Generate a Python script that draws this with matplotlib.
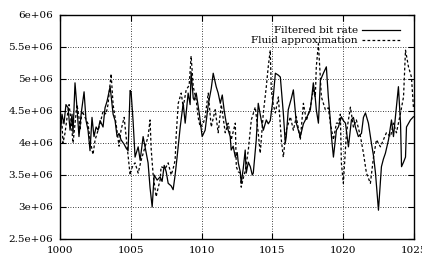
import matplotlib
matplotlib.use("Agg")
import matplotlib.pyplot as plt
from matplotlib.lines import Line2D

# ---- data (values in 1e6 bit/s) ----
t_filtered = [1000.00, 1000.14, 1000.28, 1000.42, 1000.57, 1000.71, 1000.85, 1000.92, 1001.06, 1001.20,
              1001.34, 1001.49, 1001.70, 1001.84, 1001.98, 1002.12, 1002.26, 1002.40, 1002.55, 1002.69,
              1002.83, 1003.04, 1003.18, 1003.32, 1003.54, 1003.68, 1003.75, 1003.89, 1004.03, 1004.17,
              1004.31, 1004.53, 1004.67, 1004.81, 1004.95, 1005.02, 1005.16, 1005.30, 1005.52, 1005.66,
              1005.87, 1006.08, 1006.22, 1006.36, 1006.51, 1006.65, 1006.86, 1007.07, 1007.21, 1007.36,
              1007.50, 1007.64, 1007.85, 1007.99, 1008.13, 1008.27, 1008.49, 1008.70, 1008.84, 1009.05,
              1009.19, 1009.26, 1009.41, 1009.48, 1009.62, 1009.83, 1010.04, 1010.25, 1010.47, 1010.68,
              1010.82, 1011.03, 1011.17, 1011.32, 1011.46, 1011.60, 1011.74, 1011.88, 1012.02, 1012.09,
              1012.23, 1012.38, 1012.52, 1012.59, 1012.73, 1012.80, 1012.94, 1013.08, 1013.15, 1013.30,
              1013.44, 1013.58, 1013.65, 1013.86, 1014.00, 1014.21, 1014.36, 1014.57, 1014.71, 1014.85,
              1015.06, 1015.21, 1015.42, 1015.56, 1015.77, 1015.91, 1015.98, 1016.12, 1016.34, 1016.48,
              1016.69, 1016.83, 1016.97, 1017.19, 1017.33, 1017.54, 1017.68, 1017.89, 1018.03, 1018.10,
              1018.25, 1018.39, 1018.60, 1018.81, 1018.95, 1019.09, 1019.17, 1019.31, 1019.52, 1019.66,
              1019.87, 1020.01, 1020.16, 1020.37, 1020.58, 1020.72, 1020.86, 1021.07, 1021.29, 1021.43,
              1021.57, 1021.78, 1021.99, 1022.14, 1022.28, 1022.49, 1022.70, 1022.84, 1022.98, 1023.20,
              1023.41, 1023.55, 1023.69, 1023.90, 1024.05, 1024.12, 1024.26, 1024.40, 1024.47, 1024.75,
              1024.96]
v_filtered = [4.10, 4.45, 4.30, 4.60, 4.55, 4.20, 4.45, 4.15, 4.94, 4.55,
              4.10, 4.45, 4.80, 4.35, 4.20, 3.88, 4.40, 4.10, 4.25, 4.20,
              4.35, 4.25, 4.55, 4.65, 4.88, 4.60, 4.45, 4.35, 4.10, 4.15,
              4.05, 3.98, 3.92, 3.88, 4.82, 4.80, 4.35, 3.78, 3.94, 3.73,
              4.10, 3.85, 3.69, 3.30, 3.00, 3.50, 3.42, 3.47, 3.40, 3.65,
              3.55, 3.37, 3.33, 3.27, 3.50, 3.78, 4.25, 4.62, 4.31, 4.78,
              4.60, 5.11, 4.70, 4.67, 4.78, 4.47, 4.10, 4.20, 4.60, 4.85,
              5.09, 4.88, 4.78, 4.62, 4.75, 4.50, 4.31, 4.20, 4.10, 3.89,
              3.95, 3.78, 3.85, 3.69, 3.55, 3.37, 3.60, 3.89, 3.53, 3.70,
              3.63, 3.50, 3.53, 4.05, 4.62, 4.36, 4.20, 4.36, 4.30, 4.35,
              4.72, 5.09, 5.06, 5.03, 4.47, 4.00, 4.10, 4.52, 4.70, 4.83,
              4.31, 4.20, 4.10, 4.30, 4.36, 4.45, 4.52, 4.94, 4.70, 4.52,
              4.31, 4.98, 5.09, 5.19, 4.72, 4.36, 4.10, 3.78, 4.20, 4.25,
              4.41, 4.35, 4.31, 3.94, 4.36, 4.40, 4.25, 4.10, 4.15, 4.40,
              4.47, 4.31, 4.00, 3.80, 3.53, 2.95, 3.63, 3.75, 3.84, 4.05,
              4.36, 4.10, 4.41, 4.88, 4.30, 3.63, 3.70, 3.78, 4.25, 4.36,
              4.41]

t_fluid = [1000.00, 1000.14, 1000.21, 1000.35, 1000.50, 1000.64, 1000.78, 1000.92, 1001.06, 1001.20,
           1001.34, 1001.41, 1001.56, 1001.77, 1001.98, 1002.12, 1002.33, 1002.48, 1002.69, 1002.83,
           1003.04, 1003.25, 1003.39, 1003.61, 1003.75, 1003.96, 1004.17, 1004.31, 1004.53, 1004.67,
           1004.81, 1004.95, 1005.02, 1005.16, 1005.30, 1005.52, 1005.73, 1006.01, 1006.22, 1006.36,
           1006.44, 1006.58, 1006.79, 1006.93, 1007.07, 1007.14, 1007.43, 1007.64, 1007.85, 1007.99,
           1008.13, 1008.20, 1008.35, 1008.56, 1008.70, 1008.91, 1009.12, 1009.26, 1009.41, 1009.62,
           1009.76, 1009.90, 1010.11, 1010.25, 1010.47, 1010.68, 1010.96, 1011.17, 1011.39, 1011.67,
           1011.88, 1012.09, 1012.38, 1012.45, 1012.59, 1012.73, 1012.80, 1012.94, 1013.08, 1013.30,
           1013.51, 1013.79, 1014.00, 1014.14, 1014.36, 1014.57, 1014.71, 1014.85, 1014.92, 1015.06,
           1015.21, 1015.42, 1015.63, 1015.77, 1015.98, 1016.27, 1016.48, 1016.69, 1016.97, 1017.19,
           1017.40, 1017.68, 1017.89, 1018.03, 1018.10, 1018.25, 1018.46, 1018.74, 1018.95, 1019.09,
           1019.31, 1019.52, 1019.66, 1019.80, 1019.87, 1020.01, 1020.23, 1020.51, 1020.72, 1020.93,
           1021.22, 1021.43, 1021.64, 1021.92, 1022.14, 1022.35, 1022.63, 1022.84, 1023.05, 1023.34,
           1023.55, 1023.76, 1024.05, 1024.26, 1024.40, 1024.61, 1024.82, 1024.96]
v_fluid = [4.50, 4.30, 4.00, 4.15, 4.40, 4.60, 4.35, 4.00, 4.30, 4.60,
           4.40, 4.20, 4.50, 4.40, 4.30, 4.05, 3.82, 4.05, 4.20, 4.30,
           4.50, 4.45, 4.60, 5.08, 4.60, 4.30, 3.95, 4.20, 4.40, 4.10,
           3.80, 3.50, 3.58, 3.65, 3.69, 3.53, 3.73, 3.94, 4.10, 4.36,
           3.90, 3.50, 3.16, 3.30, 3.42, 3.63, 3.60, 3.69, 3.50, 3.60,
           3.73, 4.10, 4.62, 4.78, 4.56, 4.83, 4.90, 5.36, 4.88, 4.67,
           4.40, 4.25, 4.30, 4.41, 4.78, 4.25, 4.52, 4.16, 4.60, 4.16,
           4.31, 4.05, 4.31, 3.63, 3.55, 3.53, 3.31, 3.45, 3.56, 3.89,
           4.36, 4.56, 4.16, 3.84, 4.47, 4.88, 5.20, 5.45, 4.83, 4.60,
           4.47, 4.72, 4.05, 3.78, 4.20, 4.41, 4.20, 4.41, 4.05, 4.62,
           4.35, 4.56, 4.83, 4.72, 5.19, 5.55, 4.72, 4.52, 4.55, 4.31,
           4.05, 4.31, 4.31, 4.45, 3.69, 3.37, 4.16, 4.56, 4.25, 4.36,
           4.10, 3.84, 3.53, 3.37, 3.78, 4.05, 3.94, 4.05, 4.16, 4.10,
           4.31, 4.16, 4.47, 4.72, 5.45, 5.19, 5.03, 4.56]

x_ticks = [1000, 1005, 1010, 1015, 1020, 1025]
y_ticks = [2.5e6, 3e6, 3.5e6, 4e6, 4.5e6, 5e6, 5.5e6, 6e6]
y_tick_labels = ["2.5e+06", "3e+06", "3.5e+06", "4e+06", "4.5e+06", "5e+06", "5.5e+06", "6e+06"]
legend_labels = ["Filtered bit rate", "Fluid approximation"]

plt.rcParams['font.family'] = ['DejaVu Serif', 'Liberation Serif']
plt.rcParams['font.size'] = 7.5

fig = plt.figure(figsize=(4.22, 2.54), dpi=100)
ax = fig.add_axes([60/422, 1 - 239/254, 354/422, 224/254])

sv = [v * 1e6 for v in v_filtered]
fv = [v * 1e6 for v in v_fluid]
dash = (0, (2.2, 1.8))
ax.plot(t_filtered, sv, color='black', lw=0.9)
ax.plot(t_fluid, fv, color='black', lw=0.9, linestyle=dash)

ax.set_xlim(1000, 1025)
ax.set_ylim(2.5e6, 6e6)
ax.set_xticks(x_ticks)
ax.set_xticklabels([str(x) for x in x_ticks])
ax.set_yticks(y_ticks)
ax.set_yticklabels(y_tick_labels)

ax.grid(True, color='black', linestyle=(0, (1, 2)), linewidth=0.6)
ax.tick_params(direction='in', length=4, width=0.8, top=True, right=True,
               colors='black')
ax.tick_params(axis='y', pad=5)
ax.tick_params(axis='x', pad=5)
for s in ax.spines.values():
    s.set_linewidth(1.0)

# legend (gnuplot style: right-aligned text, sample on right)
ax.text(0.842, 0.933, legend_labels[0], transform=ax.transAxes, ha='right', va='center')
ax.text(0.842, 0.888, legend_labels[1], transform=ax.transAxes, ha='right', va='center')
ax.add_line(Line2D([0.853, 0.960], [0.933, 0.933], transform=ax.transAxes,
                   color='black', lw=0.9))
ax.add_line(Line2D([0.853, 0.960], [0.888, 0.888], transform=ax.transAxes,
                   color='black', lw=0.9, linestyle=dash))

fig.savefig("out.png", dpi=100)
